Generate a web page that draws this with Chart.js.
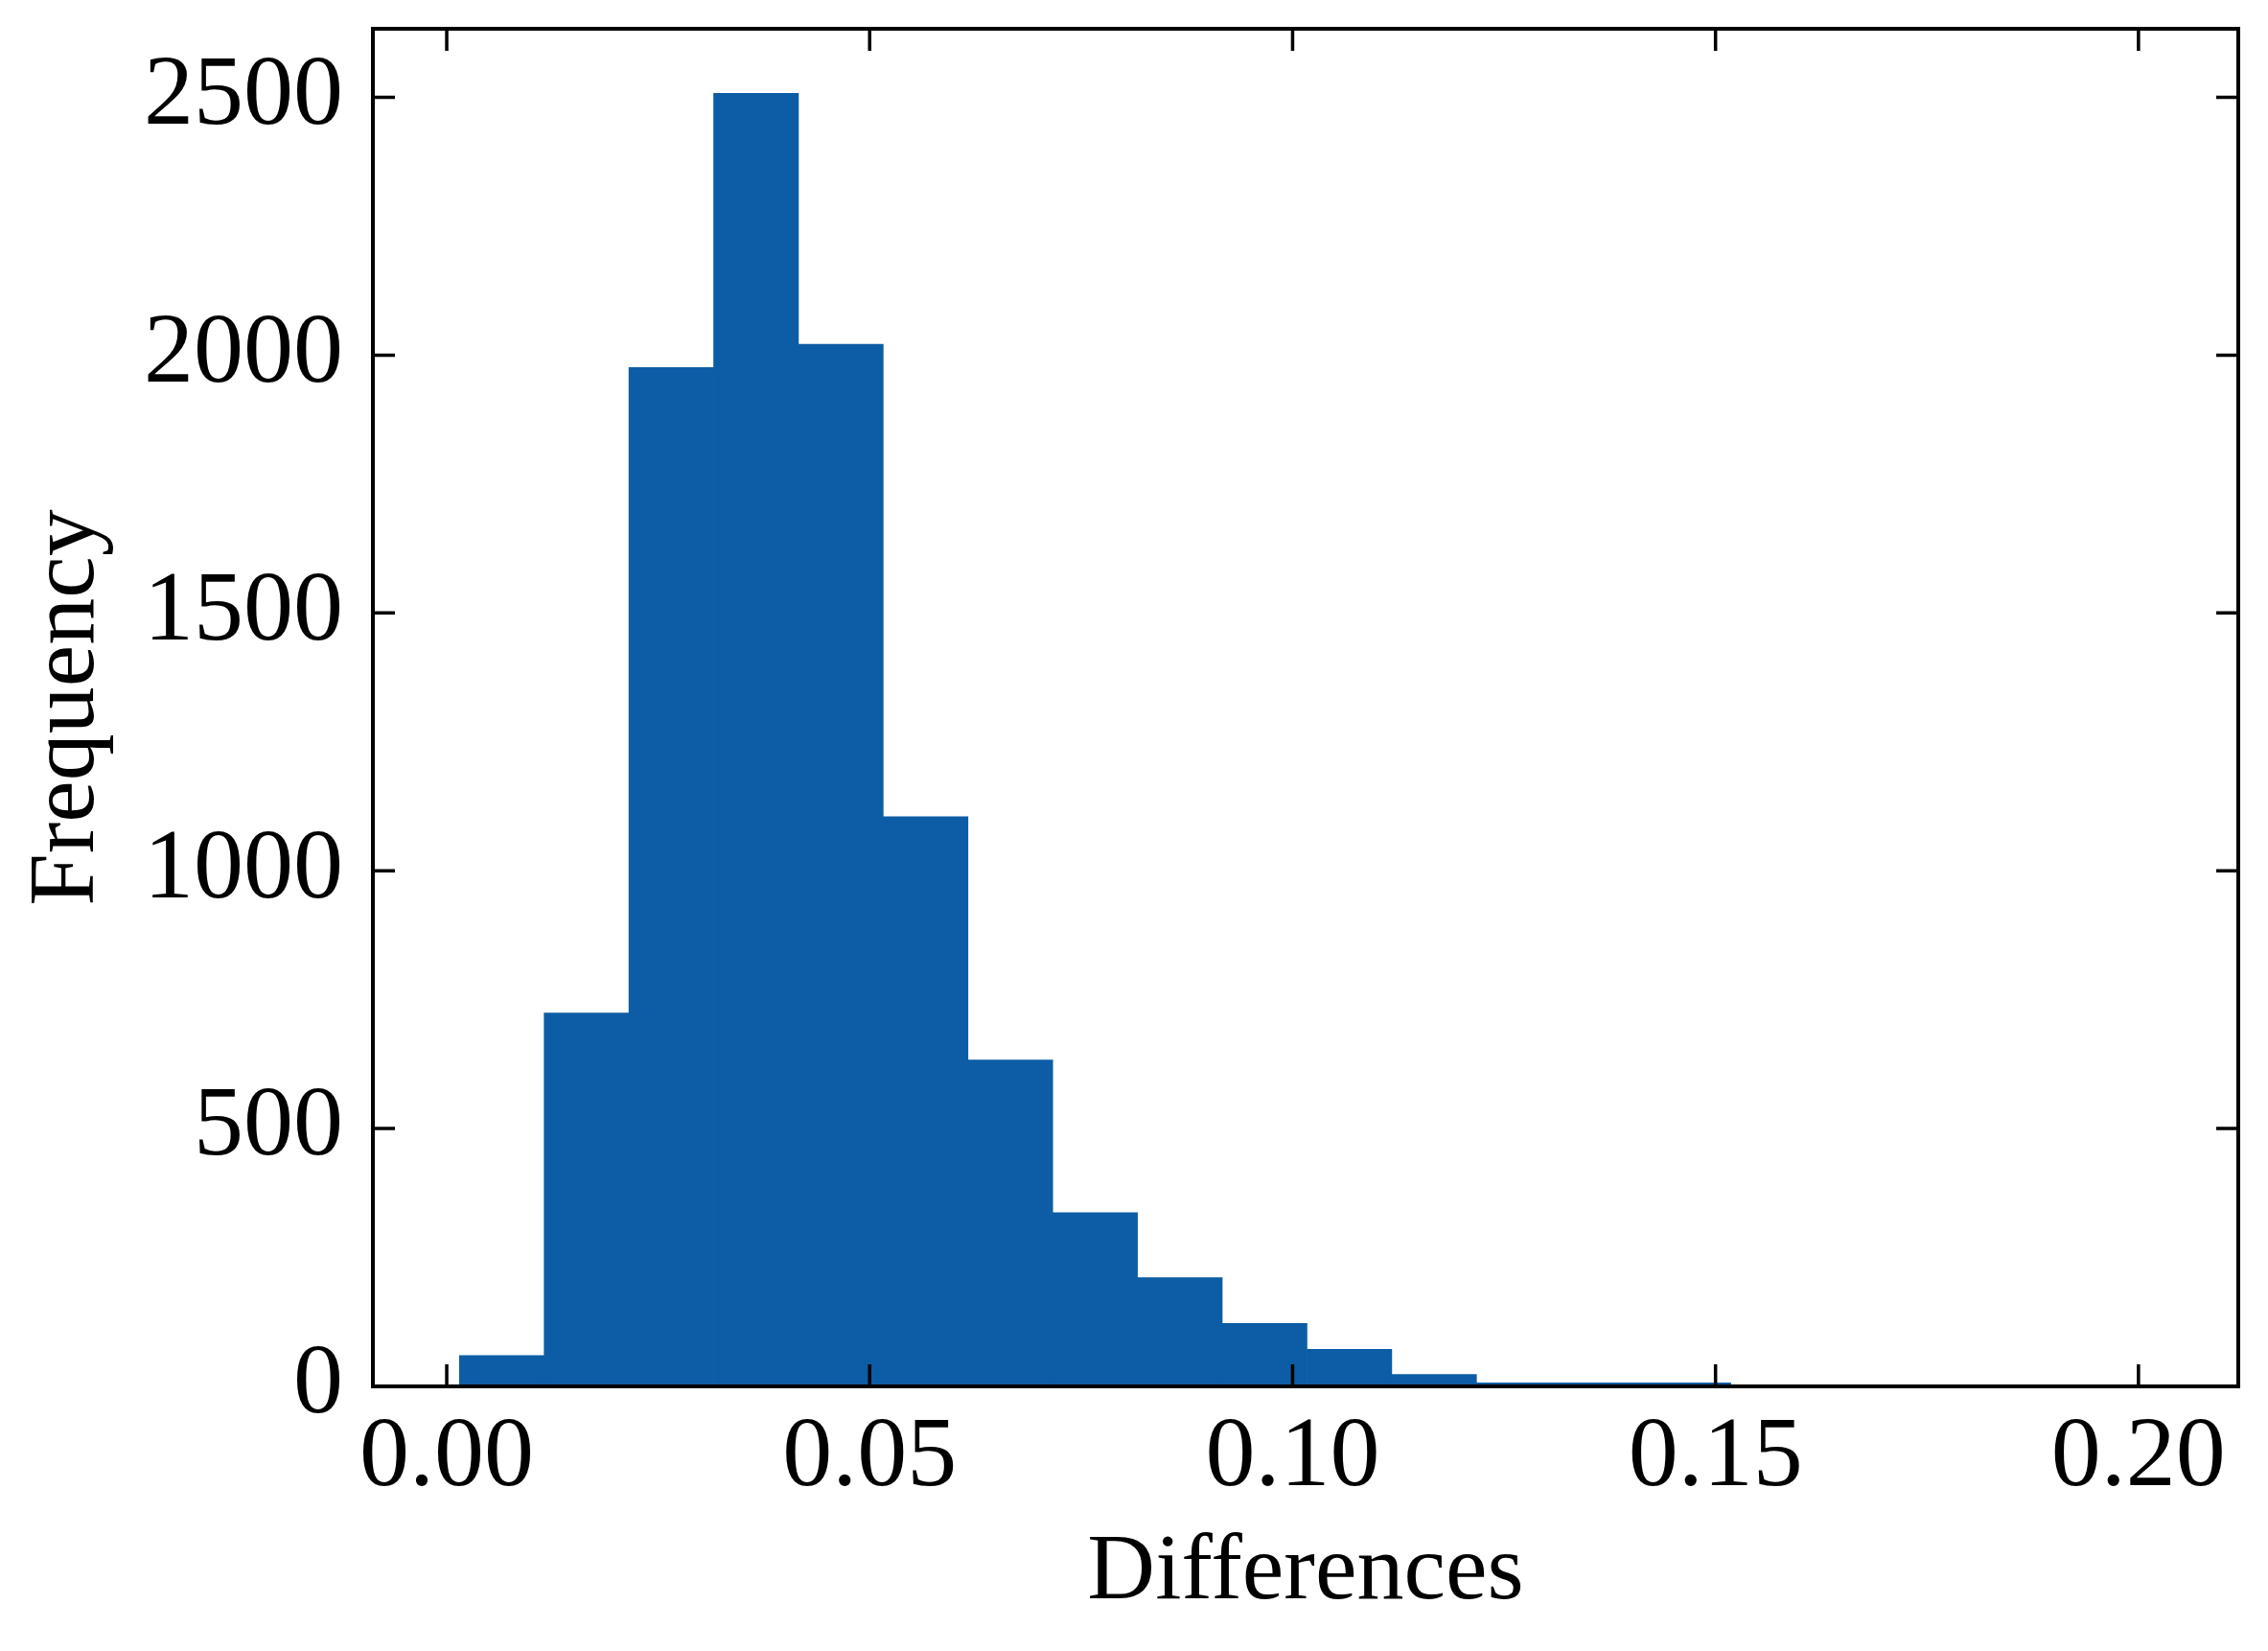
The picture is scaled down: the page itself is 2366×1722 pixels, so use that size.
<!DOCTYPE html>
<html>
<head>
<meta charset="utf-8">
<style>
  html, body { margin: 0; padding: 0; background: #ffffff; }
  #wrap { width: 2366px; height: 1722px; }
</style>
<script src="https://cdn.jsdelivr.net/npm/chart.js@4/dist/chart.umd.min.js"></script>
</head>
<body>
<div id="wrap"><canvas id="myChart" width="2366" height="1722"></canvas></div>
<script>
// bin centres of the histogram (20 bins)
const binCenters = [
  0.00651, 0.01653, 0.02655, 0.03657, 0.04659,
  0.05661, 0.06663, 0.07665, 0.08667, 0.09669,
  0.10671, 0.11673, 0.12675, 0.13677, 0.14679,
  0.15681, 0.16683, 0.17685, 0.18687, 0.19689,
];
// counts per bin
const frequencies = [
  60, 724, 1976, 2508, 2021,
  1105, 633, 337, 211, 122,
  72, 23, 7, 7, 7,
  0, 2, 0, 0, 1,
];
const xTicks = [0.0, 0.05, 0.1, 0.15, 0.2];
const yTicks = [0, 500, 1000, 1500, 2000, 2500];

const canvasChart = document.getElementById("myChart").getContext("2d");
const barColor = "#0C5DA5";
const fontFamily = "'Liberation Serif', 'DejaVu Serif', serif";

// frame round the plot plus inward ticks on all four sides
const frameTicks = {
  id: "frameTicks",
  afterDatasetsDraw(chart) {
    const ctx = chart.ctx;
    const area = chart.chartArea;
    const x = chart.scales.x;
    const y = chart.scales.y;
    const len = 23;
    ctx.save();
    ctx.strokeStyle = "#000000";
    ctx.lineWidth = 3.5;
    ctx.beginPath();
    xTicks.forEach((v) => {
      const px = x.getPixelForValue(v);
      ctx.moveTo(px, area.bottom);
      ctx.lineTo(px, area.bottom - len);
      ctx.moveTo(px, area.top);
      ctx.lineTo(px, area.top + len);
    });
    yTicks.forEach((v) => {
      const py = y.getPixelForValue(v);
      ctx.moveTo(area.left, py);
      ctx.lineTo(area.left + len, py);
      ctx.moveTo(area.right, py);
      ctx.lineTo(area.right - len, py);
    });
    ctx.stroke();
    ctx.lineWidth = 4;
    ctx.strokeRect(area.left, area.top, area.right - area.left, area.bottom - area.top);
    ctx.restore();
  },
};

new Chart(canvasChart, {
  type: "bar",
  data: {
    datasets: [
      {
        label: "Frequency",
        data: binCenters.map((c, i) => ({ x: c, y: frequencies[i] })),
        backgroundColor: barColor,
        borderWidth: 0,
        barPercentage: 1,
        categoryPercentage: 1,
      },
    ],
  },
  options: {
    responsive: false,
    animation: false,
    layout: { padding: { top: 30, right: 31, left: 0, bottom: 0 } },
    plugins: {
      legend: { display: false },
      tooltip: { enabled: false },
    },
    scales: {
      x: {
        type: "linear",
        offset: false,
        min: -0.00873,
        max: 0.2118,
        grid: { display: false, offset: false },
        border: { display: false },
        ticks: {
          padding: 5,
          color: "#000000",
          font: { family: fontFamily, size: 104 },
          maxRotation: 0,
          autoSkip: false,
          callback: (v) => v.toFixed(2),
        },
        title: {
          display: true,
          text: "Differences",
          color: "#000000",
          font: { family: fontFamily, size: 98 },
          padding: { top: 0, bottom: 22 },
        },
        afterBuildTicks(scale) {
          scale.ticks = xTicks.map((v) => ({ value: v }));
        },
        afterFit(scale) {
          scale.height = 276;
          scale.paddingLeft = 0;
          scale.paddingRight = 0;
        },
      },
      y: {
        min: 0,
        max: 2633,
        grid: { display: false },
        border: { display: false },
        ticks: {
          padding: 23,
          color: "#000000",
          font: { family: fontFamily, size: 104 },
          autoSkip: false,
          callback: (v) => String(v),
        },
        title: {
          display: true,
          text: "Frequency",
          color: "#000000",
          font: { family: fontFamily, size: 98 },
          padding: { top: 12, bottom: 0 },
        },
        afterBuildTicks(scale) {
          scale.ticks = yTicks.map((v) => ({ value: v }));
        },
        afterFit(scale) {
          scale.width = 389;
          scale.paddingTop = 0;
          scale.paddingBottom = 0;
        },
      },
    },
  },
  plugins: [frameTicks],
});
</script>
</body>
</html>
